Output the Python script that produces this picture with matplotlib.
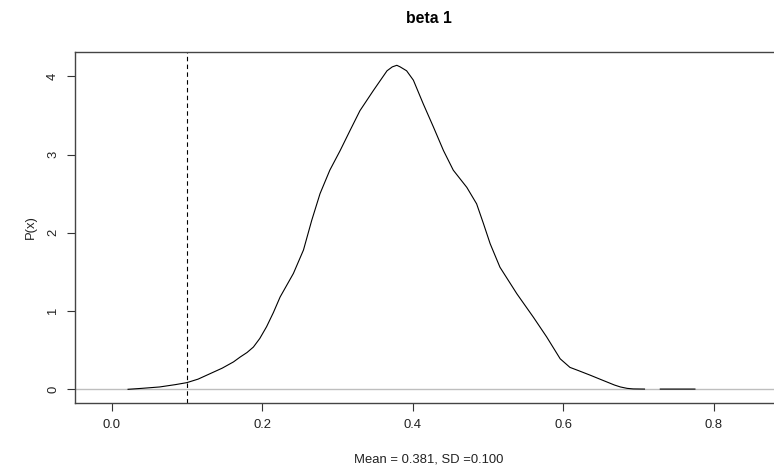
import matplotlib
matplotlib.use("Agg")
import matplotlib.pyplot as plt
import numpy as np

# density curve (nan = gap in the line)
x_vals = [0.022, 0.04, 0.064, 0.085, 0.10, 0.115, 0.131, 0.147, 0.162, 0.171,
          0.180, 0.1885, 0.197, 0.206, 0.215, 0.224, 0.2416, 0.255, 0.266, 0.277,
          0.290, 0.3037, 0.317, 0.330, 0.348, 0.366, 0.373, 0.379, 0.3834, 0.392,
          0.401, 0.414, 0.4277, 0.441, 0.454, 0.472, 0.485, 0.494, 0.503, 0.516,
          0.5385, 0.5605, 0.578, 0.596, 0.609, 0.620, 0.636, 0.650, 0.658, 0.668,
          0.676, 0.685, 0.693, 0.708, np.nan, 0.729, 0.775]
density = [0.0, 0.012, 0.03, 0.06, 0.085, 0.13, 0.20, 0.27, 0.35, 0.413,
           0.47, 0.54, 0.65, 0.80, 0.98, 1.18, 1.48, 1.78, 2.16, 2.50,
           2.80, 3.05, 3.31, 3.56, 3.82, 4.07, 4.12, 4.14, 4.12, 4.07,
           3.95, 3.65, 3.35, 3.05, 2.80, 2.58, 2.37, 2.12, 1.86, 1.56,
           1.22, 0.92, 0.67, 0.39, 0.28, 0.24, 0.18, 0.125, 0.094, 0.055,
           0.03, 0.012, 0.005, 0.003, np.nan, 0.003, 0.003]
ref_line = 0.1
x_ticks = [0.0, 0.2, 0.4, 0.6, 0.8]
y_ticks = [0, 1, 2, 3, 4]

plt.rcParams["font.family"] = ["Liberation Sans", "DejaVu Sans"]

fig = plt.figure(figsize=(7.74, 4.68), dpi=100)
W, H = 774, 468
ax = fig.add_axes([75 / W, (H - 403) / H, (783 - 75) / W, (403 - 52) / H])

ax.axhline(0, color="#bebebe", lw=1)
ax.plot(x_vals, density, color="black", lw=0.8)
ax.axvline(ref_line, color="black", lw=0.8, ls=(0, (4, 3)))

ax.set_xlim(-0.0485, 0.892)
ax.set_ylim(-0.175, 4.31)
ax.set_xticks(x_ticks)
ax.set_xticklabels([f"{v:.1f}" for v in x_ticks])
ax.set_yticks(y_ticks)
ax.set_yticklabels([str(v) for v in y_ticks], rotation=90, va="center")

for s in ax.spines.values():
    s.set_color("#444444")
    s.set_linewidth(1.0)
ax.spines["right"].set_visible(False)
ax.tick_params(direction="out", length=5.5, width=0.8, color="#333333",
               labelsize=9.4, labelcolor="#222222", pad=6)

ax.set_xlabel("Mean = 0.381, SD =0.100", fontsize=9.4, color="#222222", labelpad=16)
ax.set_ylabel("P(x)", fontsize=9.4, color="#222222", labelpad=7)
ax.set_title("beta 1", fontsize=11.4, fontweight="bold", pad=21)

fig.savefig("out.png", dpi=100)
